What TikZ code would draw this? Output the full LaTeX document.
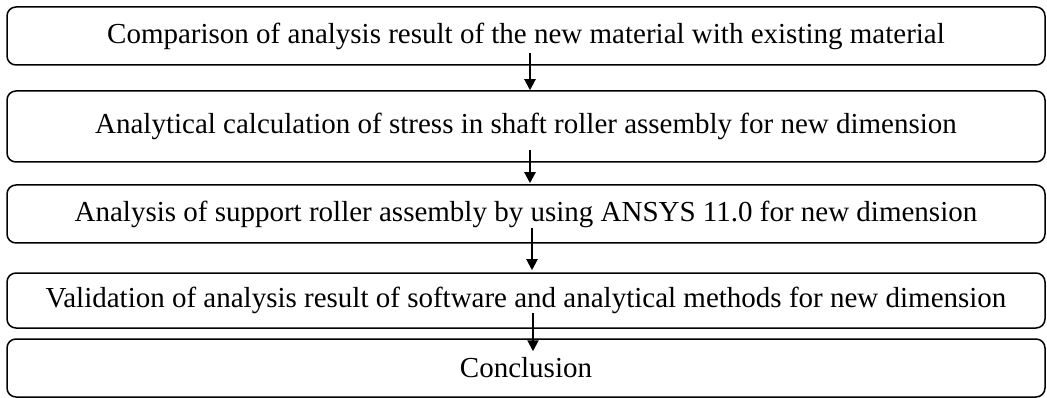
\documentclass[tikz,border=0pt]{standalone}
\usepackage{fontspec}
\setmainfont{Liberation Serif}
\usetikzlibrary{arrows.meta,positioning}

\tikzset{
	stage/.style={draw, line width=1.5pt, rounded corners=9pt, inner sep=0pt,
		minimum width=1038pt, font=\fontsize{29}{32}\selectfont},
	flow/.style={line width=2pt, -{Triangle[length=11pt,width=11pt]}}
}

\begin{document}
\begin{tikzpicture}[x=1pt, y=-1pt]
		\useasboundingbox (0,0) rectangle (1047,398);
		% stages
		\node[stage, minimum height=58pt] (cmp) at (526,36) {Comparison of analysis result of the new material with existing material};
		\node[stage, minimum height=71pt] (calc) at (526,126.5) {Analytical calculation of stress in shaft roller assembly for new dimension};
		\node[stage, minimum height=58pt] (ansys) at (526,214) {Analysis of support roller assembly by using ANSYS 11.0 for new dimension};
		\node[stage, minimum height=55pt] (valid) at (526,300.5) {Validation of analysis result of software and analytical methods for new dimension};
		\node[stage, minimum height=58pt] (concl) at (526,368) {Conclusion};
		% arrows
		\draw[flow] ([xshift=4pt,yshift=13pt]cmp.south) -- ([xshift=4pt]calc.north);
		\draw[flow] ([xshift=4pt,yshift=13pt]calc.south) -- ([xshift=4pt,yshift=1pt]ansys.north);
		\draw[flow] ([xshift=6pt,yshift=16pt]ansys.south) -- ([xshift=6pt,yshift=2pt]valid.north);
		\draw[flow] ([xshift=7pt,yshift=16pt]valid.south) -- ([xshift=7pt,yshift=-13pt]concl.north);
	\end{tikzpicture}
\end{document}
